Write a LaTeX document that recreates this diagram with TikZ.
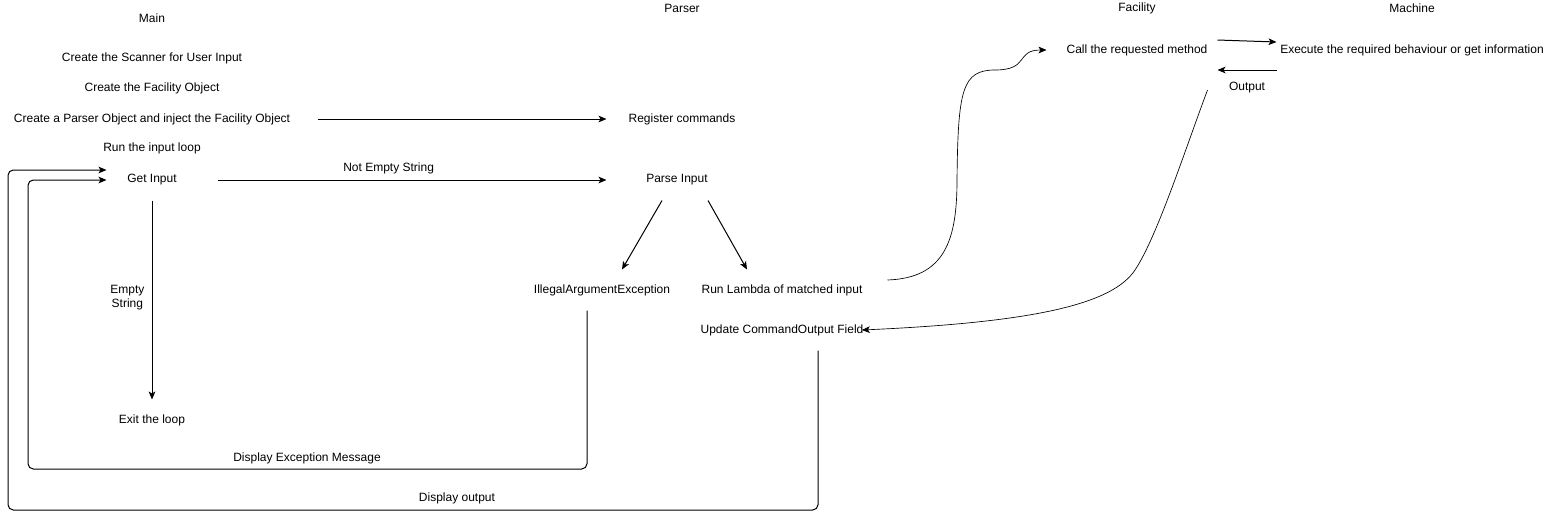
\documentclass[tikz,border=0pt]{standalone}
\usepackage{fontspec}
\setmainfont{Liberation Sans}
\usetikzlibrary{arrows.meta, calc}

\begin{document}
\begin{tikzpicture}[x=0.75pt, y=-0.75pt, font=\fontsize{9}{10.5}\selectfont, line width=0.75pt,
		box/.style={inner sep=0pt, minimum height=30pt},
		arr/.style={-{Stealth[length=6pt, width=5pt, inset=1.5pt]}}]
		\useasboundingbox (0,0) rectangle (1553,519);
		% column headers
		\node (main) at (152,18) {Main};
		\node (parser) at (682,8) {Parser};
		\node (facility) at (1137,8) {Facility};
		\node (machine) at (1412,8) {Machine};
		% main
		\node[box] (scanner) at (152,58) {Create the Scanner for User Input};
		\node[box] (facobj) at (152,88) {Create the Facility Object};
		\node[box, minimum width=247.5pt] (mkparser) at (152,119) {Create a Parser Object and inject the Facility Object};
		\node[box] (loop) at (152,148) {Run the input loop};
		\node[box, minimum width=97.5pt] (getinput) at (152,180) {Get Input};
		\node[box] (exitloop) at (152,420) {Exit the loop};
		% parser
		\node[box, minimum width=112.5pt] (register) at (682,119) {Register commands};
		\node[box, minimum width=105pt] (parse) at (677,180) {Parse Input};
		\node[box] (illegal) at (602,290) {IllegalArgumentException};
		\node[box, minimum width=157.5pt] (lambda) at (782,290) {Run Lambda of matched input};
		\node[box, minimum width=120pt] (update) at (782,330) {Update CommandOutput Field};
		% facility and machine
		\node[box, minimum width=120pt] (callmethod) at (1137,50) {Call the requested method};
		\node[box, minimum width=202.5pt] (execute) at (1412,50) {Execute the required behaviour or get information};
		\node (outlbl) at (1247,88) {Output};
		\node (dispexc) at (307,458) {Display Exception Message};
		\node (dispout) at (457,498) {Display output};

		\draw[arr] (mkparser) -- (register);
		\draw[arr] (getinput) -- (parse) node[pos=0.44, above=1pt] (notempty) {Not Empty String};
		\draw[arr] (getinput) -- (exitloop) node[pos=0.49, left=2pt, align=center] (empty) {Empty\\String};
		\draw[arr] ($(parse.south)+(-15,0)$) -- ($(illegal.north)+(20,0)$);
		\draw[arr] ($(parse.south)+(31,0)$) -- ($(lambda.north)+(-35,0)$);
		\draw[arr, line width=0.5pt] ($(lambda.east)+(0,-10)$) .. controls (945,278) and (957,240) .. (957,180)
			.. controls (958,90) and (962,70) .. (995,70) .. controls (1030,70) and (1015,50) .. ($(callmethod.west)+(-10,0)$);
		\draw[arr] ($(callmethod.east)+(0,-10)$) -- ($(execute.west)+(0,-8)$);
		\draw[arr] ($(execute.west)+(0,20)$) -- ($(callmethod.east)+(0,20)$);
		\draw[arr, line width=0.5pt] ($(callmethod.east)+(-10,40)$) .. controls (1185,150) and (1157,237) .. (1135,270)
			.. controls (1113,303) and (1040,322) .. ($(update.east)+(-2,0)$);
		% loops back to Get Input
		\draw[arr, rounded corners=4pt] ($(illegal.south)+(-15,0)$) |- (28,469) |- ($(getinput.west)+(20,0)$);
		\draw[arr, rounded corners=4pt] ($(update.south)+(36,0)$) |- (8,510) |- ($(getinput.west)+(20,-10)$);
	\end{tikzpicture}
\end{document}
